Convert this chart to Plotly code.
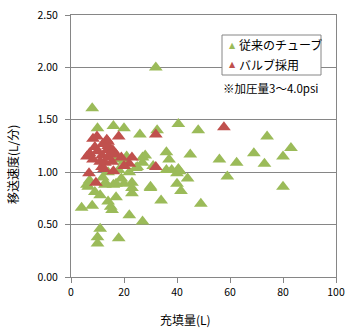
import plotly.graph_objects as go

# 従来のチューブ: 充填量 (L) と 移送速度 (L/分)
tube_x = [32, 8, 10, 16, 20, 26, 32.5, 40.5, 48, 74, 83, 36, 45, 56, 62.5, 69, 73, 80,
          27, 28, 27, 24.5, 31, 37, 36, 38, 40.5, 40, 41, 44, 59, 80, 40, 30, 41.5,
          23, 23, 34, 49, 22, 27, 4, 8, 11, 10, 10, 18, 14, 15, 15.5, 17, 11, 9, 6.5,
          13, 16, 19, 20, 12.8, 20, 18, 22, 25, 12, 14, 7, 21, 17, 6, 17, 23, 30]
tube_y = [2.00, 1.61, 1.42, 1.44, 1.42, 1.36, 1.40, 1.46, 1.40, 1.34, 1.23, 1.19, 1.17,
          1.12, 1.09, 1.18, 1.08, 1.15, 1.14, 1.16, 1.09, 1.04, 1.06, 1.12, 1.02, 1.02,
          1.03, 0.99, 1.01, 0.94, 0.96, 0.86, 0.89, 0.85, 0.82, 0.90, 0.80, 0.73, 0.70,
          0.59, 0.53, 0.66, 0.68, 0.46, 0.38, 0.32, 0.37, 0.72, 0.67, 0.64, 0.76, 0.78,
          0.81, 0.86, 0.90, 0.88, 0.94, 0.89, 0.88, 1.10, 1.02, 1.00, 1.05, 0.95, 1.00,
          0.92, 1.15, 1.12, 0.88, 0.89, 0.85, 0.86]

# バルブ採用
valve_x = [57.7, 32, 23, 32, 22, 9.8, 8.3, 18, 14, 9, 7, 13.6, 15.8, 11.7, 8.3, 19,
           12.8, 15.5, 11.7, 16, 6.8, 9.4, 12.5, 14, 12, 10, 17, 6, 20, 14, 11, 13.5, 15]
valve_y = [1.43, 1.36, 1.14, 1.05, 1.08, 1.34, 1.32, 1.34, 1.29, 1.24, 1.18, 1.21, 1.21,
           1.16, 1.12, 1.14, 1.09, 1.10, 1.05, 1.01, 0.99, 0.90, 1.03, 1.25, 1.27, 1.20,
           1.17, 1.15, 1.06, 1.14, 1.10, 1.31, 1.18]

series_names = ["従来のチューブ", "バルブ採用"]
x_ticks = [0, 20, 40, 60, 80, 100]
y_ticks = [0.0, 0.5, 1.0, 1.5, 2.0, 2.5]
y_tick_text = ["0.00", "0.50", "1.00", "1.50", "2.00", "2.50"]

GREEN = "#9BBB59"
RED = "#C0504D"
GRID = "#868686"
FONT = "Noto Sans CJK JP"

W, H = 360, 335
ML, MR, MT, MB = 71, 24, 15, 58
PW, PH = W - ML - MR, H - MT - MB


def px(xpix):
    """pixel column -> paper x"""
    return (xpix - ML) / PW


def py(ypix):
    """pixel row -> paper y"""
    return (H - MB - ypix) / PH


fig = go.Figure()
for xs, ys, name, color in [(tube_x, tube_y, series_names[0], GREEN),
                            (valve_x, valve_y, series_names[1], RED)]:
    fig.add_trace(go.Scatter(
        x=xs, y=ys, mode="markers", name=name, showlegend=False,
        marker=dict(symbol="triangle-up", size=12, color=color, line=dict(width=0)),
    ))

# boxed legend in the upper right of the plot area
legend_annotations = []
for name, color, row in [(series_names[0], GREEN, 45), (series_names[1], RED, 64)]:
    legend_annotations.append(dict(
        text="▲", xref="paper", yref="paper", x=px(232), y=py(row + 0.5),
        xanchor="center", yanchor="middle", showarrow=False,
        font=dict(family="DejaVu Sans", size=8, color=color)))
    legend_annotations.append(dict(
        text=name, xref="paper", yref="paper", x=px(237), y=py(row),
        xanchor="left", yanchor="middle", showarrow=False,
        font=dict(family=FONT, size=12, color="black")))

fig.update_layout(
    width=W, height=H,
    margin=dict(l=ML, r=MR, t=MT, b=MB, autoexpand=False),
    paper_bgcolor="white", plot_bgcolor="white",
    font=dict(family=FONT, size=10, color="black"),
    showlegend=False,
    xaxis=dict(
        range=[0, 100], tickvals=x_ticks, showgrid=False, zeroline=False,
        showline=True, linecolor=GRID, linewidth=1, mirror=True,
        ticks="outside", ticklen=5, tickcolor=GRID, automargin=False,
        tickfont=dict(family=FONT, size=10.5),
    ),
    yaxis=dict(
        range=[0, 2.5], tickvals=y_ticks, ticktext=y_tick_text,
        showgrid=True, gridcolor=GRID, gridwidth=1, zeroline=False,
        showline=True, linecolor=GRID, linewidth=1, mirror=True,
        ticks="outside", ticklen=5, tickcolor=GRID, automargin=False,
        ticklabelstandoff=5,
        tickfont=dict(family=FONT, size=10.5),
    ),
    shapes=[dict(
        type="rect", xref="paper", yref="paper",
        x0=px(222), x1=px(321), y0=py(75), y1=py(35),
        line=dict(color=GRID, width=1), fillcolor="white", layer="above",
    )],
    annotations=legend_annotations + [
        dict(text="※加圧量3～4.0psi", xref="paper", yref="paper",
             x=px(221), y=py(88), xanchor="left", yanchor="middle",
             showarrow=False, font=dict(family=FONT, size=11.5, color="black")),
        dict(text="充填量(L)", xref="paper", yref="paper",
             x=px(185), y=py(320), xanchor="center", yanchor="middle",
             showarrow=False, font=dict(family=FONT, size=12, color="black")),
        dict(text="移送速度(L/分)", xref="paper", yref="paper",
             x=px(12), y=py(165), xanchor="center", yanchor="middle",
             textangle=-90, showarrow=False,
             font=dict(family=FONT, size=12, color="black")),
    ],
)

fig.write_html("out.html")
